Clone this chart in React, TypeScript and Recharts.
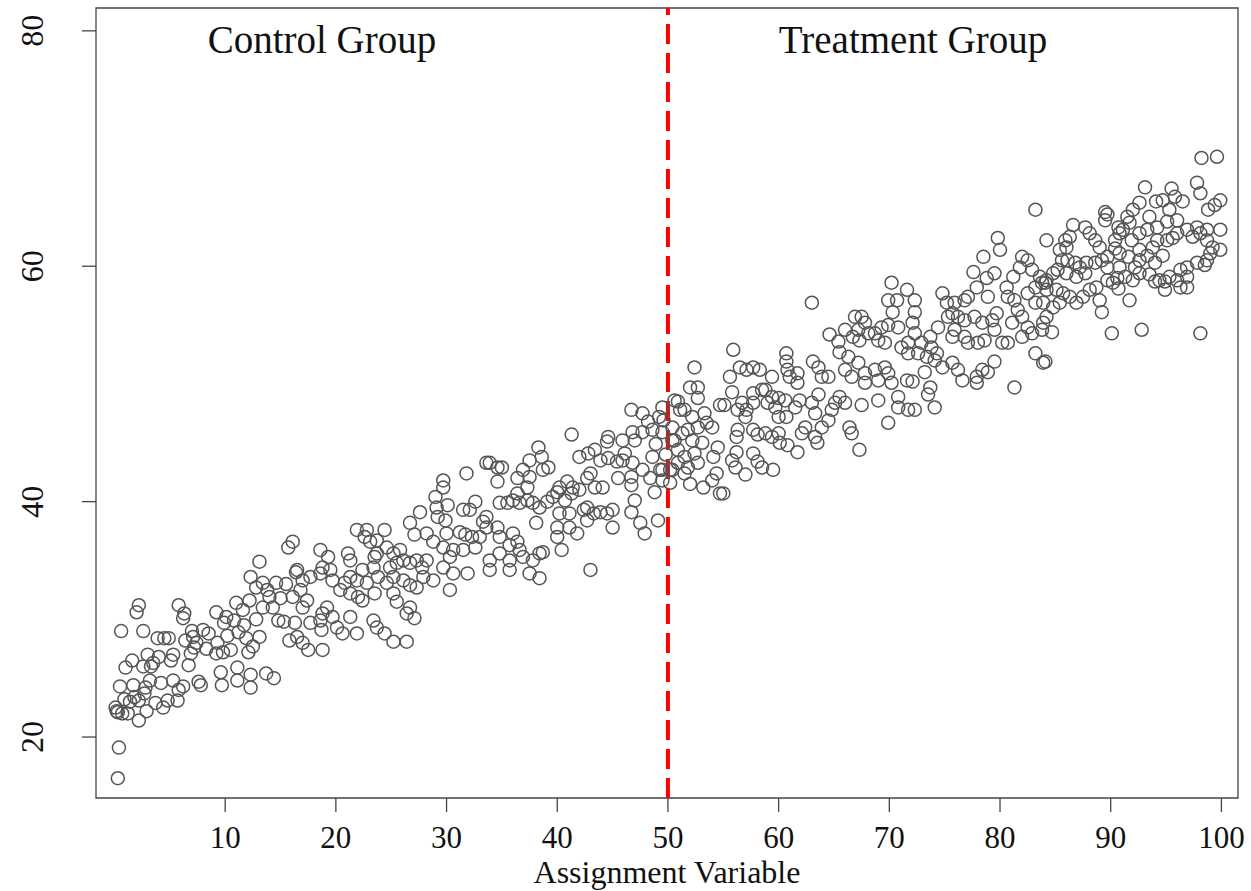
import React from 'react';
import { ScatterChart, Scatter, XAxis, YAxis, ReferenceLine, ReferenceArea } from 'recharts';

const xTicks = [10, 20, 30, 40, 50, 60, 70, 80, 90, 100];
const yTicks = [20, 40, 60, 80];
const cutoff = 50;
const xDomain: [number, number] = [-1.67, 101.5];
const yDomain: [number, number] = [14.82, 81.94];

// [assignment, outcome]
const controlGroup: [number, number][] = [
  [0.3,16.5],[0.4,19.1],[0.2,22.2],[0.7,22.0],[0.6,29.0],[2.6,29.0],[2.2,31.2],[2.0,30.6],[1.0,25.9],[1.6,26.5],
  [0.5,24.3],[0.1,22.5],[0.3,22.1],[1.2,22.0],[2.2,21.4],[1.7,24.4],[2.8,24.2],[3.0,27.0],[3.5,26.3],[3.3,26.0],
  [2.6,26.0],[2.7,23.7],[3.7,22.9],[2.2,23.1],[1.8,23.4],[3.9,28.4],[4.5,28.4],[4.9,28.4],[4.2,24.6],[4.8,23.1],
  [5.3,24.8],[5.7,23.1],[5.1,26.5],[5.3,27.0],[5.8,31.2],[6.3,30.5],[6.2,30.1],[6.4,28.2],[7.1,28.5],[7.4,28.0],
  [6.7,26.1],[7.6,24.7],[7.8,24.4],[8.0,29.1],[8.5,28.8],[6.9,27.1],[7.2,27.6],[5.8,24.0],[6.2,24.3],[9.2,30.6],
  [10.1,30.2],[9.9,29.7],[9.3,28.0],[9.8,27.2],[9.2,27.1],[9.6,25.5],[9.7,24.4],[10.5,27.4],[11.1,25.9],[11.1,24.8],
  [12.3,25.3],[12.3,24.2],[13.7,25.4],[14.4,25.0],[11.0,31.4],[11.6,30.8],[10.8,29.9],[11.7,29.5],[11.2,28.9],[11.9,28.4],
  [12.1,27.2],[12.5,27.7],[13.1,28.5],[12.3,33.6],[13.1,34.9],[12.8,32.7],[13.4,33.1],[12.2,31.6],[14.0,31.9],[14.6,33.1],
  [15.0,31.8],[14.8,29.9],[15.3,29.8],[15.8,28.2],[15.7,36.1],[16.4,34.0],[14.3,31.0],[13.4,31.0],[1.4,23.0],[3.2,24.8],
  [4.0,26.8],[8.3,27.5],[10.2,28.6],[12.8,30.0],[13.8,32.5],[15.5,33.0],[7.0,29.0],[4.4,22.5],[2.9,22.2],[0.9,23.2],
  [31.8,42.4],[33.6,43.3],[29.7,41.8],[29.7,41.2],[29.0,40.4],[30.1,39.7],[29.1,39.5],[29.2,38.7],[29.9,38.4],[31.5,39.3],
  [32.1,39.3],[32.6,40.0],[27.6,39.1],[26.7,38.2],[27.1,37.2],[28.2,37.3],[28.8,36.6],[30.0,37.3],[31.2,37.4],[31.7,37.2],
  [32.3,37.0],[33.0,37.0],[32.6,36.1],[31.5,35.9],[30.6,35.9],[29.7,36.1],[30.3,35.3],[29.7,34.4],[30.6,33.9],[31.9,33.9],
  [30.3,32.5],[28.8,33.3],[27.9,33.6],[27.8,34.4],[28.2,35.0],[27.3,35.0],[26.7,34.8],[26.1,35.0],[25.5,34.8],[25.8,35.9],
  [25.2,35.6],[24.6,36.1],[24.9,34.4],[25.2,33.6],[24.6,33.1],[25.2,32.2],[25.5,31.5],[26.7,31.0],[27.1,30.1],[26.4,30.5],
  [26.1,33.3],[26.7,32.9],[27.3,32.7],[23.7,35.6],[23.4,34.4],[23.8,33.6],[22.8,33.1],[23.5,32.2],[22.8,37.6],[22.6,37.0],
  [23.1,36.6],[23.7,36.7],[24.4,37.6],[23.5,35.3],[22.4,34.2],[21.9,33.3],[21.3,33.6],[20.8,33.1],[21.1,35.6],[21.3,35.0],
  [20.4,32.5],[21.3,32.2],[22.0,31.9],[22.4,31.6],[21.3,30.2],[21.9,28.8],[20.6,28.8],[20.1,29.3],[19.7,30.2],[19.2,31.0],
  [18.8,30.5],[18.6,29.9],[18.7,29.1],[18.6,33.9],[18.8,34.4],[19.5,34.2],[18.6,35.9],[19.3,35.3],[19.7,33.3],[17.7,33.6],
  [17.0,33.3],[16.5,34.2],[16.8,32.5],[16.1,31.9],[17.4,31.6],[17.0,31.0],[17.7,29.7],[16.3,29.7],[16.5,28.5],[17.0,28.0],
  [17.5,27.4],[18.8,27.4],[16.1,36.6],[21.9,37.6],[23.4,29.9],[23.7,29.3],[24.4,28.8],[25.2,28.1],[26.4,28.1],
  [41.3,45.7],[46.7,47.8],[47.7,47.5],[48.2,46.8],[49.5,48.0],[49.5,45.9],[48.6,46.1],[47.7,45.9],[46.8,45.9],[47.0,45.2],
  [45.9,45.2],[44.6,45.5],[44.5,45.1],[46.1,44.1],[45.9,43.5],[45.4,43.4],[46.8,43.3],[47.7,42.7],[48.6,43.8],[49.3,42.7],
  [48.4,42.0],[48.8,40.8],[46.7,42.1],[46.7,41.4],[45.5,42.0],[47.0,40.1],[46.7,39.1],[45.0,39.3],[44.5,39.0],[43.9,39.1],
  [43.3,39.0],[42.7,39.5],[42.4,39.3],[45.0,37.8],[47.5,38.2],[47.9,37.3],[49.1,38.4],[43.0,34.2],[42.0,43.8],[42.8,44.1],
  [43.4,44.4],[43.9,43.5],[44.6,43.7],[43.0,42.4],[42.7,42.0],[43.4,41.2],[44.1,41.2],[42.0,41.0],[41.4,41.2],[40.9,41.7],
  [40.2,41.2],[40.0,40.8],[40.7,40.1],[41.3,40.7],[39.6,40.4],[39.1,40.0],[38.4,39.5],[37.8,39.9],[37.3,40.1],[36.6,39.9],
  [36.0,40.1],[36.4,40.7],[37.3,41.2],[37.5,42.1],[36.9,42.7],[37.5,43.5],[38.3,44.6],[38.6,43.8],[38.7,42.7],[39.2,42.9],
  [36.4,42.0],[33.9,43.3],[34.6,42.9],[35.0,42.9],[34.6,41.7],[34.8,39.9],[35.5,39.9],[33.6,38.7],[33.3,38.3],[33.6,37.8],
  [34.6,37.8],[34.8,37.0],[36.0,37.3],[36.4,36.6],[35.7,36.3],[36.6,35.9],[36.9,35.3],[35.7,35.0],[34.8,35.6],[33.9,35.0],
  [33.9,34.2],[35.7,34.2],[37.5,33.9],[38.4,33.5],[38.4,35.6],[37.8,35.0],[38.7,35.7],[38.1,38.2],[40.0,37.8],[40.0,37.0],
  [40.4,35.9],[41.1,37.8],[41.8,37.3],[42.7,38.4],[40.2,39.0],[41.1,39.0],[49.6,46.9],[49.8,44.0],[49.5,42.7],[49.5,41.8],
  [48.9,44.9],[49.2,47.2],
];

const treatmentGroup: [number, number][] = [
  [63.0,56.9],[64.6,54.2],[65.4,53.6],[66.0,54.6],[66.7,54.0],[66.9,55.7],[65.5,52.7],[66.3,52.3],[66.0,51.2],[66.6,50.6],
  [65.5,48.9],[66.0,48.4],[65.1,48.4],[64.8,47.8],[64.5,46.9],[63.9,46.3],[63.3,45.5],[63.5,45.0],[66.4,46.3],[66.6,45.8],
  [67.3,44.4],[63.3,47.5],[62.1,45.8],[61.7,44.2],[62.4,46.3],[63.0,48.4],[63.6,49.1],[61.9,48.6],[61.5,48.0],[60.6,48.6],
  [60.0,48.8],[59.7,48.0],[60.0,47.2],[60.7,47.2],[60.0,45.8],[60.1,45.0],[60.8,44.8],[59.4,45.5],[58.8,45.8],[58.8,49.5],
  [59.4,48.9],[59.0,48.4],[60.7,52.6],[60.7,51.9],[60.8,51.2],[61.0,50.6],[61.7,50.9],[61.7,50.1],[63.1,51.9],[63.6,51.4],
  [64.5,50.6],[63.9,50.6],[59.4,50.6],[57.7,48.4],[57.1,47.8],[56.7,48.4],[56.3,47.8],[57.0,47.2],[56.2,45.5],[56.3,46.1],
  [57.7,46.1],[58.1,45.7],[57.7,49.2],[58.5,49.5],[55.9,52.9],[55.6,50.6],[56.5,51.4],[57.1,51.2],[57.7,51.4],[58.3,51.2],
  [55.8,49.3],[54.7,48.2],[55.1,48.2],[56.2,44.2],[55.8,43.5],[56.1,42.9],[57.0,42.3],[57.7,44.1],[58.1,43.4],[58.5,42.9],
  [59.5,42.7],[54.4,42.4],[54.0,41.8],[53.2,41.2],[54.7,40.7],[55.0,40.7],[54.1,43.8],[54.5,44.6],[52.4,51.4],[52.0,49.7],
  [52.7,49.7],[52.7,48.8],[50.9,48.5],[51.5,47.8],[52.2,47.2],[53.3,47.5],[53.5,46.7],[54.0,46.3],[52.7,46.3],[51.8,46.1],
  [51.3,45.8],[50.4,46.3],[50.6,45.2],[52.2,45.2],[53.1,45.0],[50.9,44.4],[51.5,43.8],[52.4,44.1],[52.7,43.3],[51.8,42.9],
  [50.9,43.3],[50.4,42.7],[51.5,42.4],[50.2,41.6],[50.4,45.2],[50.6,48.6],[51.1,47.8],[50.2,42.7],[52.0,41.5],
  [83.2,64.8],[84.2,62.2],[79.8,62.4],[80.0,61.4],[78.5,60.8],[77.6,59.5],[78.8,59.0],[79.5,59.4],[77.9,58.2],[78.9,57.4],
  [77.1,57.4],[76.8,57.1],[74.8,57.7],[75.2,56.9],[75.9,56.9],[75.7,56.0],[75.3,55.7],[76.2,55.7],[76.8,55.4],[77.7,55.7],
  [78.4,55.2],[79.3,55.4],[79.7,56.0],[79.5,54.6],[78.6,53.7],[78.0,53.5],[77.1,53.5],[76.8,54.0],[75.9,54.6],[75.7,54.0],
  [80.2,53.5],[80.7,53.5],[81.3,49.7],[83.2,52.6],[83.9,51.8],[81.1,55.2],[81.6,56.3],[81.3,57.1],[80.7,57.4],[80.6,58.2],
  [81.2,59.1],[81.8,59.9],[82.0,60.8],[82.5,60.5],[82.9,59.7],[83.6,59.1],[84.1,58.6],[83.2,58.2],[82.5,57.7],[83.2,56.9],
  [83.9,56.9],[82.0,55.7],[82.5,54.8],[82.9,54.3],[83.8,54.6],[82.0,54.0],[74.4,54.8],[73.7,54.0],[73.8,53.1],[74.3,52.6],
  [73.4,52.3],[74.1,52.0],[74.8,51.4],[75.7,51.8],[76.2,51.2],[76.6,50.3],[77.9,50.6],[78.4,51.2],[78.9,51.0],[79.5,51.9],
  [77.9,50.1],[72.9,53.5],[72.3,54.3],[72.1,55.2],[72.3,56.1],[72.3,57.1],[71.6,58.0],[70.2,58.6],[69.9,57.1],[70.7,57.1],
  [70.3,56.1],[71.7,53.5],[71.1,53.1],[71.7,52.6],[72.6,52.6],[70.8,54.8],[69.9,55.0],[69.3,54.8],[68.7,54.3],[69.0,53.7],
  [69.6,53.5],[67.5,55.7],[67.2,54.6],[67.8,55.2],[68.1,54.3],[67.3,53.7],[67.2,51.8],[67.8,50.9],[68.7,51.2],[69.6,51.4],
  [69.9,50.9],[67.8,50.1],[69.0,50.3],[67.5,48.2],[69.0,48.6],[69.9,46.7],[70.8,48.0],[71.7,47.8],[72.3,47.8],[71.6,50.3],
  [72.1,50.2],[73.2,51.0],[73.7,49.7],[73.5,49.1],[74.1,48.0],[70.8,48.9],[70.2,50.1],
  [98.2,69.2],[99.6,69.3],[97.8,67.1],[98.1,66.2],[93.1,66.7],[95.5,66.6],[95.8,65.9],[96.5,65.5],[94.7,65.6],[94.1,65.5],
  [92.6,65.4],[92.0,64.8],[89.5,64.6],[89.7,64.4],[89.5,63.9],[91.5,64.2],[91.7,63.7],[93.5,64.2],[95.3,64.8],[96.0,63.9],
  [95.1,63.8],[94.2,63.3],[93.3,63.1],[92.6,62.8],[91.9,62.2],[90.8,62.8],[90.4,62.2],[91.1,63.1],[90.7,63.3],[98.8,64.8],
  [99.4,65.2],[99.9,65.6],[97.8,63.3],[98.1,62.8],[98.7,63.1],[99.9,63.1],[96.9,63.1],[97.4,62.5],[96.0,62.8],[95.6,62.4],
  [95.1,62.2],[94.2,62.2],[93.8,61.6],[94.7,60.9],[94.0,60.3],[93.3,60.9],[92.6,60.5],[92.2,59.9],[92.6,61.4],[98.7,62.2],
  [99.2,61.6],[99.9,61.4],[99.0,61.1],[98.7,60.5],[98.5,60.1],[97.8,60.3],[96.9,59.9],[96.3,59.7],[96.9,59.1],[96.0,58.8],
  [95.3,59.1],[94.9,58.7],[94.9,58.0],[94.0,58.7],[96.9,58.2],[98.1,54.3],[92.8,54.6],[90.1,54.3],[91.7,57.1],[90.2,58.6],
  [90.6,59.0],[89.7,58.8],[89.7,59.9],[89.2,60.5],[89.7,60.8],[90.8,61.1],[90.4,61.5],[91.6,60.8],[90.8,59.9],[89.0,61.6],
  [88.6,62.2],[88.1,62.8],[87.7,63.3],[86.6,63.5],[86.3,62.5],[85.9,62.2],[86.0,61.6],[85.4,61.4],[85.6,60.5],[86.1,60.5],
  [86.8,60.3],[87.2,59.9],[87.8,60.3],[88.6,60.3],[87.7,59.4],[86.9,59.1],[86.0,59.4],[85.2,59.7],[84.8,59.4],[84.2,58.8],
  [83.8,58.6],[84.2,58.0],[85.1,58.0],[85.7,57.7],[86.3,57.4],[86.9,56.9],[87.5,57.4],[88.1,58.0],[88.7,58.2],[89.0,57.1],
  [89.2,56.1],[85.4,56.9],[84.8,56.5],[84.2,55.7],[83.9,55.2],[84.7,54.4],[84.1,51.9],[92.0,58.8],[92.6,59.4],[93.5,59.3],
  [94.4,58.8],[90.7,58.1],[91.3,59.1],[96.3,58.2],
];

const FONT = '"Liberation Serif", "Times New Roman", serif';
const INK = '#444';

const toRows = (pts: [number, number][]) => pts.map(([x, y]) => ({ x, y }));

const Ring = (props: any) => (
  <circle cx={props.cx} cy={props.cy} r={6.5} fill="none" stroke="#555" strokeWidth={1.5} />
);

const XTick = ({ x, y, payload }: any) => (
  <text x={x} y={y + 34} textAnchor="middle" fontSize={31} fontFamily={FONT} fill="#111">
    {payload.value}
  </text>
);

const YTick = ({ x, y, payload }: any) => (
  <text
    x={x - 37}
    y={y}
    transform={`rotate(-90, ${x - 37}, ${y})`}
    textAnchor="middle"
    fontSize={32}
    fontFamily={FONT}
    fill="#111"
  >
    {payload.value}
  </text>
);

export default function App() {
  return (
    <div style={{ position: 'absolute', left: 0, top: 0, background: '#fff' }}>
      <ScatterChart width={1251} height={891} margin={{ top: 8, right: 13, bottom: 33, left: 16 }}>
        <XAxis
          type="number"
          dataKey="x"
          domain={xDomain}
          ticks={xTicks}
          allowDataOverflow
          axisLine={false}
          tickLine={{ stroke: INK, strokeWidth: 1.3 }}
          tickSize={14}
          height={60}
          tick={<XTick />}
          interval={0}
        />
        <YAxis
          type="number"
          dataKey="y"
          domain={yDomain}
          ticks={yTicks}
          allowDataOverflow
          axisLine={false}
          tickLine={{ stroke: INK, strokeWidth: 1.3 }}
          tickSize={14}
          width={80}
          tick={<YTick />}
          interval={0}
        />
        <ReferenceArea
          x1={xDomain[0]}
          x2={xDomain[1]}
          y1={yDomain[0]}
          y2={yDomain[1]}
          fill="none"
          fillOpacity={0}
          stroke={INK}
          strokeWidth={1.3}
        />
        <Scatter data={toRows(controlGroup)} shape={<Ring />} isAnimationActive={false} />
        <Scatter data={toRows(treatmentGroup)} shape={<Ring />} isAnimationActive={false} />
        <ReferenceLine x={cutoff} stroke="#ff0000" strokeWidth={4} strokeDasharray="20 9" />
        <text x={322} y={53} textAnchor="middle" fontSize={39} fontFamily={FONT} fill="#111">
          Control Group
        </text>
        <text x={913} y={53} textAnchor="middle" fontSize={39} fontFamily={FONT} fill="#111">
          Treatment Group
        </text>
        <text x={667} y={883} textAnchor="middle" fontSize={32} fontFamily={FONT} fill="#111">
          Assignment Variable
        </text>
      </ScatterChart>
    </div>
  );
}
